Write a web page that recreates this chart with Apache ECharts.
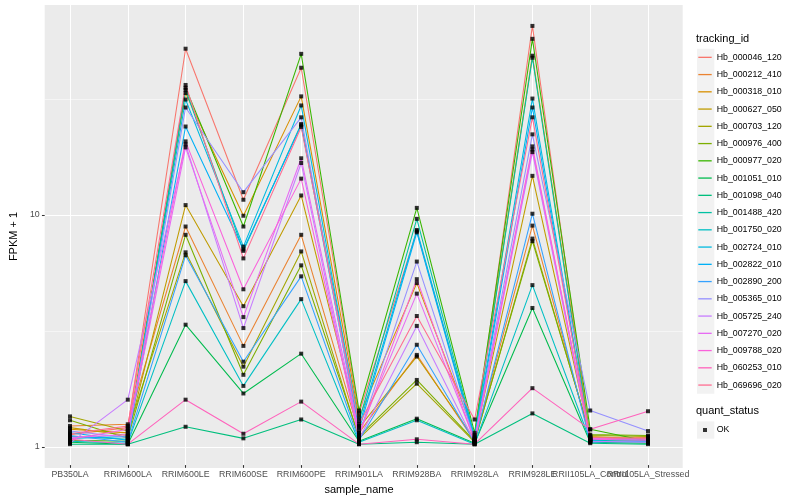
<!DOCTYPE html>
<html><head><meta charset="utf-8">
<script src="https://cdn.jsdelivr.net/npm/echarts@6/dist/echarts.min.js"></script>
<style>html,body{margin:0;padding:0;background:#fff}#c{width:800px;height:500px}</style>
</head><body><div id="c"></div>
<script>
// ---- data ----
const categories = ["PB350LA","RRIM600LA","RRIM600LE","RRIM600SE","RRIM600PE","RRIM901LA","RRIM928BA","RRIM928LA","RRIM928LE","RRII105LA_Control","RRII105LA_Stressed"];
const trackingIds = ["Hb_000046_120","Hb_000212_410","Hb_000318_010","Hb_000627_050","Hb_000703_120","Hb_000976_400","Hb_000977_020","Hb_001051_010","Hb_001098_040","Hb_001488_420","Hb_001750_020","Hb_002724_010","Hb_002822_010","Hb_002890_200","Hb_005365_010","Hb_005725_240","Hb_007270_020","Hb_009788_020","Hb_060253_010","Hb_069696_020"];
const hb_000046_120 = [1.10,1.18,52.0,11.5,43.0,1.36,8.4,1.06,65.3,1.05,1.04];
const hb_000212_410 = [1.20,1.22,8.8,2.67,8.1,1.12,2.44,1.03,8.88,1.06,1.07];
const hb_000318_010 = [1.16,1.12,33.4,9.8,32.3,1.31,5.0,1.10,48.5,1.08,1.05];
const hb_000627_050 = [1.18,1.09,10.9,3.97,12.0,1.18,2.40,1.05,14.6,1.07,1.05];
const hb_000703_120 = [1.32,1.14,6.8,2.17,6.86,1.06,1.83,1.02,7.8,1.09,1.08];
const hb_000976_400 = [1.27,1.06,8.1,2.0,5.97,1.08,1.9,1.03,7.6,1.10,1.09];
const hb_000977_020 = [1.04,1.03,35.2,8.8,49.4,1.40,10.6,1.12,57.4,1.16,1.03];
const hb_001051_010 = [1.02,1.00,3.3,1.66,2.47,1.03,1.29,1.01,3.9,1.02,1.01];
const hb_001098_040 = [1.00,1.00,1.19,1.06,1.28,1.00,1.02,1.00,1.36,1.01,1.00];
const hb_001488_420 = [1.08,1.05,34.5,6.9,24.5,1.26,9.5,1.08,47.5,1.04,1.03];
const hb_001750_020 = [1.03,1.01,5.1,1.79,4.26,1.02,1.27,1.00,4.9,1.03,1.02];
const hb_002724_010 = [1.06,1.08,31.3,7.2,29.5,1.20,8.5,1.07,31.6,1.05,1.04];
const hb_002822_010 = [1.12,1.04,23.9,7.0,24.2,1.15,8.3,1.04,28.9,1.04,1.06];
const hb_002890_200 = [1.09,1.02,6.6,2.28,5.35,1.04,2.7,1.02,10.0,1.02,1.03];
const hb_005365_010 = [1.14,1.07,28.9,12.4,26.2,1.10,6.2,1.05,22.1,1.40,1.14];
const hb_005725_240 = [1.01,1.56,20.0,3.19,16.6,1.05,3.26,1.02,18.5,1.03,1.02];
const hb_007270_020 = [1.07,1.10,19.4,3.56,17.4,1.12,4.5,1.04,19.0,1.06,1.05];
const hb_009788_020 = [1.05,1.16,20.6,4.7,14.2,1.09,5.2,1.03,19.6,1.05,1.04];
const hb_060253_010 = [1.05,1.00,1.56,1.11,1.53,1.00,1.05,1.00,1.75,1.16,1.39];
const hb_069696_020 = [1.11,1.20,36.2,6.4,23.8,1.22,3.6,1.28,26.2,1.07,1.06];
const seriesValues = [hb_000046_120,hb_000212_410,hb_000318_010,hb_000627_050,hb_000703_120,hb_000976_400,hb_000977_020,hb_001051_010,hb_001098_040,hb_001488_420,hb_001750_020,hb_002724_010,hb_002822_010,hb_002890_200,hb_005365_010,hb_005725_240,hb_007270_020,hb_009788_020,hb_060253_010,hb_069696_020];
const yTickLabels = [1, 10];
const statusName = "OK";

// ---- style ----
const palette = ["#F8766D","#EA8331","#D89000","#C09B00","#A3A500","#7CAE00","#39B600","#00BB4E","#00BF7D","#00C1A3","#00BFC4","#00BAE0","#00B0F6","#35A2FF","#9590FF","#C77CFF","#E76BF3","#FA62DB","#FF62BC","#FF6C91"];
const FONT = '"Liberation Sans", Arial, sans-serif';

const allVals = seriesValues.flat();
const lmin = Math.log10(Math.min(...allVals)), lmax = Math.log10(Math.max(...allVals));
const pad = (lmax - lmin) * 0.05;
const yMin = Math.pow(10, lmin - pad), yMax = Math.pow(10, lmax + pad);

const PL = 35.3, PT = 5, PW = 647.4, PH = 463;
const unit = PW / (categories.length - 1 + 1.2);
const innerLeft = PL + 0.6 * unit, innerW = unit * (categories.length - 1);

const chart = echarts.init(document.getElementById('c'), null, {renderer: 'canvas'});

const lineSeries = trackingIds.map((id, i) => ({
  name: id, type: 'line', xAxisIndex: 1, yAxisIndex: 1,
  data: seriesValues[i], symbol: 'none', z: 3,
  lineStyle: {color: palette[i], width: 1.07},
  itemStyle: {color: palette[i]},
  silent: true, animation: false
}));
const pointData = [];
seriesValues.forEach(arr => arr.forEach((v, j) => pointData.push([categories[j], v])));
const pointSeries = {
  name: statusName, type: 'scatter', xAxisIndex: 1, yAxisIndex: 1,
  data: pointData, symbol: 'rect', symbolSize: 4, z: 5,
  itemStyle: {color: '#000'}, silent: true, animation: false
};

const option = {
  animation: false,
  textStyle: {fontFamily: FONT},
  grid: [
    {left: PL, top: PT, width: PW, height: PH, show: true, backgroundColor: '#EBEBEB', borderWidth: 0, containLabel: false},
    {left: innerLeft, top: PT, width: innerW, height: PH, show: false, containLabel: false}
  ],
  xAxis: [
    {type: 'value', gridIndex: 0, show: false, min: 0, max: 1},
    {type: 'category', gridIndex: 1, data: categories, boundaryGap: false,
     axisLine: {show: false},
     axisTick: {show: true, length: 2.75, lineStyle: {color: '#333333', width: 1.07}},
     axisLabel: {interval: 0, fontSize: 8.8, color: '#4D4D4D', margin: 5, fontFamily: FONT},
     splitLine: {show: true, lineStyle: {color: '#FFFFFF', width: 1.07}},
     name: 'sample_name', nameLocation: 'middle', nameGap: 15,
     nameTextStyle: {fontSize: 11, color: '#000', fontFamily: FONT}}
  ],
  yAxis: [
    {type: 'log', logBase: 10, gridIndex: 0, min: yMin, max: yMax,
     axisLine: {show: false},
     axisTick: {show: true, length: 2.75, lineStyle: {color: '#333333', width: 1.07}},
     axisLabel: {fontSize: 8.8, color: '#4D4D4D', margin: 5, fontFamily: FONT, showMinLabel: false, showMaxLabel: false,
       formatter: v => (yTickLabels.some(t => Math.abs(t - v) < 1e-6 * t) ? String(Math.round(v)) : '')},
     splitLine: {show: true, showMinLine: false, showMaxLine: false, lineStyle: {color: '#FFFFFF', width: 1.07}},
     name: 'FPKM + 1', nameLocation: 'middle', nameGap: 17,
     nameTextStyle: {fontSize: 11, color: '#000', fontFamily: FONT}},
    {type: 'log', logBase: 10, gridIndex: 1, min: yMin, max: yMax, show: false, splitLine: {show: false}},
    {type: 'log', logBase: Math.sqrt(10), gridIndex: 0, min: yMin, max: yMax,
     axisLine: {show: false}, axisTick: {show: false}, axisLabel: {show: false},
     splitLine: {show: true, showMinLine: false, showMaxLine: false, lineStyle: {color: '#FFFFFF', width: 0.53}}}
  ],
  legend: [
    {orient: 'vertical', left: 698.3, top: 48.7, padding: 0, itemGap: 0,
     itemWidth: 13.4, itemHeight: 1.3, icon: 'rect', selectedMode: false, z: 10,
     data: trackingIds,
     textStyle: {fontSize: 8.8, color: '#000', fontFamily: FONT, lineHeight: 17.25}},
    {orient: 'vertical', left: 698.3, top: 421.4, padding: 0, itemGap: 0,
     itemWidth: 13.4, itemHeight: 4,
     icon: 'path://M0,0L0.01,0L0,0.01Z M4.7,0L8.7,0L8.7,4L4.7,4Z M13.4,4L13.39,4L13.4,3.99Z',
     selectedMode: false, z: 10,
     data: [statusName],
     textStyle: {fontSize: 8.8, color: '#000', fontFamily: FONT, lineHeight: 17.25}}
  ],
  graphic: [
    {type: 'rect', shape: {x: 697, y: 48.7, width: 17.3, height: 17.25 * trackingIds.length}, style: {fill: '#F2F2F2'}, z: 1, silent: true},
    {type: 'rect', shape: {x: 697, y: 421.4, width: 17.3, height: 17.25}, style: {fill: '#F2F2F2'}, z: 1, silent: true},
    {type: 'text', left: 696, top: 33.5, style: {text: 'tracking_id', fontSize: 11, fill: '#000', fontFamily: FONT}, z: 10},
    {type: 'text', left: 696, top: 405.8, style: {text: 'quant_status', fontSize: 11, fill: '#000', fontFamily: FONT}, z: 10}
  ],
  series: [...lineSeries, pointSeries]
};
chart.setOption(option);
</script>
</body></html>
